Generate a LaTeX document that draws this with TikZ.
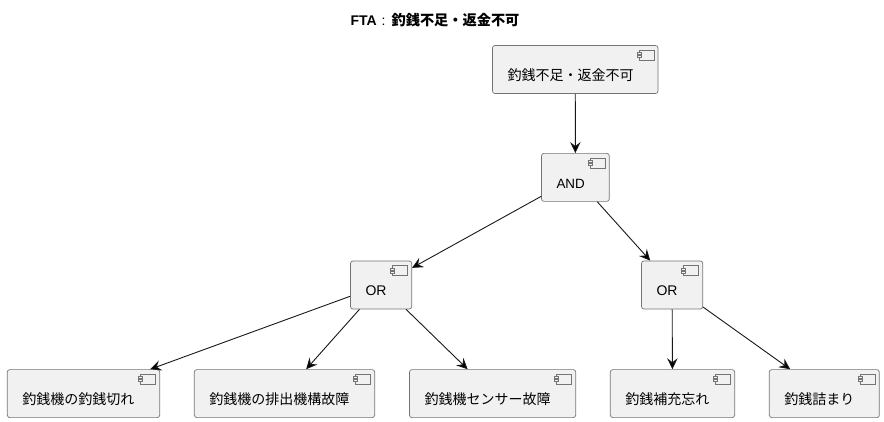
\documentclass[tikz,border=0pt]{standalone}
\usepackage{fontspec}
\setmainfont{Liberation Sans}
\newfontfamily\cjk{Noto Sans CJK JP}
\usetikzlibrary{arrows.meta}
\definecolor{boxfill}{HTML}{F1F1F1}
\definecolor{inkline}{HTML}{181818}

\begin{document}
\begin{tikzpicture}[x=1pt, y=-1pt,
                comp_style/.style={draw=inkline!60, line width=0.7pt, fill=boxfill, rounded corners=2.5pt,
                    inner xsep=15pt, inner ysep=0pt, text height=35pt, text depth=13pt, align=left,
                    font=\fontsize{14}{17}\selectfont},
                icon_style/.style={draw=inkline!60, line width=0.6pt},
                edge_style/.style={draw=inkline, line width=0.9pt, -{Stealth[length=11pt, width=10.5pt, inset=4pt]}}]
                \useasboundingbox (0,0) rectangle (884,422);
                \node[font=\fontsize{14}{17}\selectfont\bfseries] (title) at (435,20) {FTA\hspace{5pt}{\mdseries :}\hspace{6pt}{\fontsize{14.2}{17}\selectfont\cjk 釣銭不足・返金不可}};
                \node[comp_style, text width=135.5pt] (top) at (575.25,69.5) {\cjk 釣銭不足・返金不可};
                \node[comp_style, text width=37.8pt] (gate) at (575.4,177.4) {\fontsize{13.4}{17}\selectfont AND};
                \node[comp_style, text width=31.2pt] (or1) at (381.1,285) {OR};
                \node[comp_style, text width=31.2pt] (or2) at (672.1,285) {OR};
                \node[comp_style, text width=122.4pt] (b1) at (83.5,393.6) {\cjk 釣銭機の釣銭切れ};
                \node[comp_style, text width=150.4pt] (b2) at (284.5,393.6) {\cjk 釣銭機の排出機構故障};
                \node[comp_style, text width=136.2pt] (b3) at (492.6,393.6) {\cjk 釣銭機センサー故障};
                \node[comp_style, text width=94.4pt] (b4) at (672.5,393.6) {\cjk 釣銭補充忘れ};
                \node[comp_style, text width=80pt] (b5) at (824.3,393.6) {\cjk 釣銭詰まり};
                \foreach \n in {top,gate,or1,or2,b1,b2,b3,b4,b5} {
                    \begin{scope}[shift={(\n.north east)}]
                        \draw[icon_style] (-19.5,5) rectangle (-4.5,15);
                        \draw[icon_style, fill=boxfill] (-21.5,7.5) rectangle (-17.5,9.5);
                        \draw[icon_style, fill=boxfill] (-21.5,10.5) rectangle (-17.5,12.5);
                    \end{scope}
                }
                \draw[edge_style] (top) edge (gate);
                \draw[edge_style] (gate) edge (or1);
                \draw[edge_style] (gate) edge (or2);
                \draw[edge_style] (or1) edge (b1);
                \draw[edge_style] (or1) edge (b2);
                \draw[edge_style] (or1) edge (b3);
                \draw[edge_style] (or2) edge (b4);
                \draw[edge_style] (or2) edge (b5);
            \end{tikzpicture}
\end{document}
